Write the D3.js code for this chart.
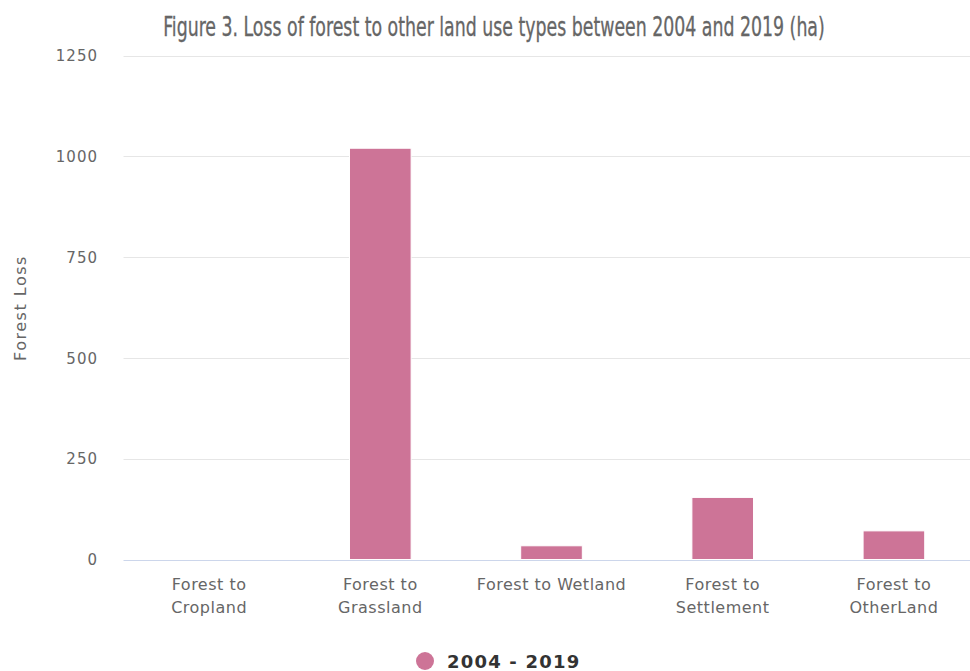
<!DOCTYPE html>
<html>
<head>
<meta charset="utf-8">
<script src="https://cdn.jsdelivr.net/npm/d3@7"></script>
<style>
  html, body { margin: 0; padding: 0; background: #fff; }
  svg { display: block; }
</style>
</head>
<body>
<svg id="chart" width="970" height="671"></svg>
<script>
// Forest loss by conversion type, 2004–2019 (ha)
const categories = [
  ["Forest to", "Cropland"],
  ["Forest to", "Grassland"],
  ["Forest to Wetland"],
  ["Forest to", "Settlement"],
  ["Forest to", "OtherLand"]
];
const categoryKeys = ["Cropland", "Grassland", "Wetland", "Settlement", "OtherLand"];
const lossValues = [0, 1020, 34, 154, 71];
const yTicks = [0, 250, 500, 750, 1000, 1250];
const seriesName = "2004 - 2019";
const titleText = "Figure 3. Loss of forest to other land use types between 2004 and 2019 (ha)";
const yAxisTitle = "Forest Loss";

const svg = d3.select("#chart");
const barColor = "#cd7497";
const labelFont = "'DejaVu Sans', Verdana, sans-serif";

const x = d3.scaleBand()
  .domain(categoryKeys)
  .range([123.5, 979.5])
  .paddingInner(0.64)
  .paddingOuter(0.32);

const y = d3.scaleLinear()
  .domain([0, 1250])
  .range([559.5, 55.5]);

// Horizontal grid lines
svg.append("g")
  .selectAll("line")
  .data(yTicks.filter(t => t !== 0))
  .join("line")
  .attr("x1", 123.5)
  .attr("x2", 970)
  .attr("y1", d => Math.round(y(d)) + 0.5)
  .attr("y2", d => Math.round(y(d)) + 0.5)
  .attr("stroke", "#e6e6e6")
  .attr("stroke-width", 1);

// Y axis tick labels
const yAxis = d3.axisLeft(y)
  .tickValues(yTicks)
  .tickFormat(d3.format("d"))
  .tickSize(0)
  .tickPadding(0);
const yg = svg.append("g")
  .attr("transform", "translate(98,0)")
  .call(yAxis);
yg.select(".domain").remove();
yg.selectAll("text")
  .attr("font-family", labelFont)
  .attr("font-size", "15px")
  .attr("letter-spacing", "1px")
  .attr("fill", "#666")
  .attr("dy", "0.35em");

// Y axis title
svg.append("text")
  .attr("transform", "translate(26,308) rotate(-90)")
  .attr("text-anchor", "middle")
  .attr("font-family", labelFont)
  .attr("font-size", "16px")
  .attr("letter-spacing", "1.5px")
  .attr("fill", "#666")
  .text(yAxisTitle);

// Bars
svg.append("g")
  .selectAll("rect")
  .data(lossValues)
  .join("rect")
  .attr("x", (d, i) => x(categoryKeys[i]))
  .attr("width", x.bandwidth())
  .attr("y", d => y(d))
  .attr("height", d => y(0) - y(d))
  .attr("fill", barColor)
  .attr("stroke", "#fff")
  .attr("stroke-width", 1);

// X axis baseline
svg.append("line")
  .attr("x1", 123.5)
  .attr("x2", 970)
  .attr("y1", 560.5)
  .attr("y2", 560.5)
  .attr("stroke", "#ccd6eb")
  .attr("stroke-width", 1);

// X axis category labels
const xg = svg.append("g");
categories.forEach((lines, i) => {
  const cx = x(categoryKeys[i]) + x.bandwidth() / 2;
  const t = xg.append("text")
    .attr("x", cx)
    .attr("y", 590)
    .attr("text-anchor", "middle")
    .attr("font-family", labelFont)
    .attr("font-size", "16px")
    .attr("letter-spacing", "0.5px")
    .attr("fill", "#666");
  lines.forEach((ln, j) => {
    t.append("tspan")
      .attr("x", cx)
      .attr("dy", j === 0 ? 0 : 23)
      .text(ln);
  });
});

// Title: narrow face, squeezed horizontally to the target width
const titleWidth = 662;
const titleG = svg.append("g");
const title = titleG.append("text")
  .attr("x", 0)
  .attr("y", 0)
  .attr("text-anchor", "middle")
  .attr("font-family", "'Liberation Sans Narrow', 'DejaVu Sans Condensed', sans-serif")
  .attr("font-size", "26px")
  .attr("fill", "#666")
  .attr("stroke", "#666")
  .attr("stroke-width", 0.3)
  .text(titleText);
const naturalWidth = title.node().getComputedTextLength();
titleG.attr("transform", `translate(494,36) scale(${titleWidth / naturalWidth},1)`);

// Legend
svg.append("circle")
  .attr("cx", 425)
  .attr("cy", 661)
  .attr("r", 9)
  .attr("fill", barColor);
svg.append("text")
  .attr("x", 447)
  .attr("y", 668)
  .attr("font-family", labelFont)
  .attr("font-size", "18px")
  .attr("font-weight", "bold")
  .attr("letter-spacing", "1.2px")
  .attr("fill", "#333")
  .text(seriesName);
</script>
</body>
</html>
